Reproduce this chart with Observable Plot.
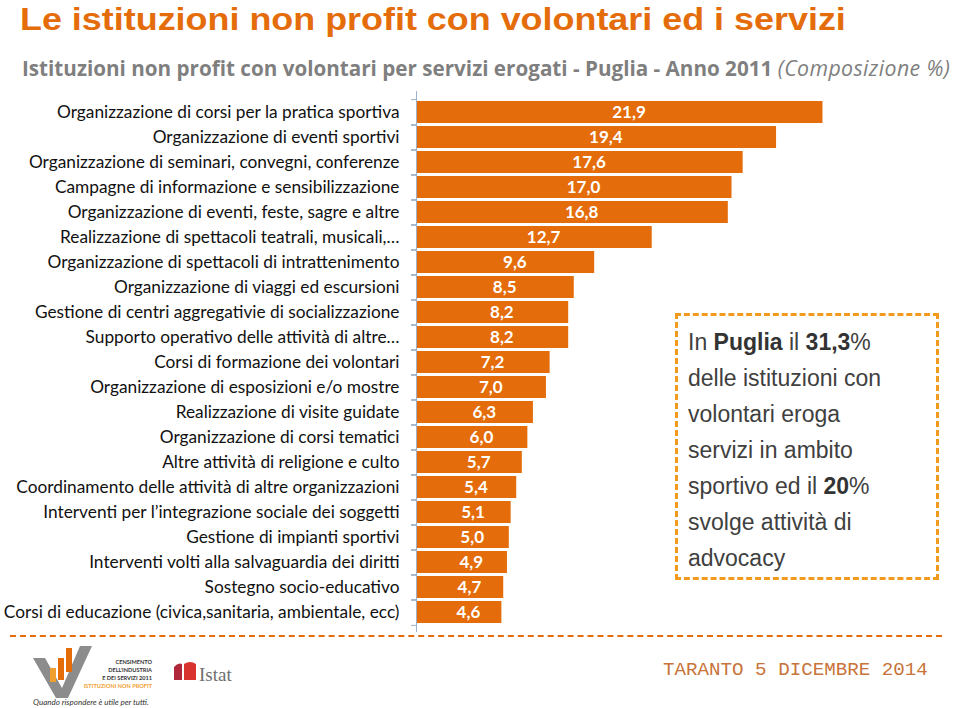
<!DOCTYPE html>
<html>
<head>
<meta charset="utf-8">
<script src="https://cdn.jsdelivr.net/npm/d3@7"></script>
<script src="https://cdn.jsdelivr.net/npm/@observablehq/plot@0.6"></script>
<style>
  html, body { margin: 0; padding: 0; background: #fff; }
  #page { position: relative; width: 959px; height: 708px; overflow: hidden; }
  #title { position: absolute; left: 20px; top: 1px; font: bold 32px/36px "Liberation Sans", Arial, sans-serif; color: #E46C0A; white-space: nowrap; transform: scaleX(1.122); transform-origin: 0 0; }
  #subtitle { position: absolute; left: 22px; top: 54px; font: bold 20.65px/28px "Open Sans", sans-serif; color: #7F7F7F; white-space: nowrap; }
  #subtitle i { font-weight: normal; font-size: 21.3px; letter-spacing: 0.4px; }
  #chart { position: absolute; left: 0; top: 85px; }
  #box { position: absolute; left: 675px; top: 313px; width: 258px; height: 261px; border: 3px dashed #F29A1E; }
  #boxtext { position: absolute; left: 688px; top: 324px; font: 23px/36px "Liberation Sans", Arial, sans-serif; color: #404040; }
  #boxtext b { color: #333; }
  #sep { position: absolute; left: 10px; top: 635px; width: 932px; height: 0; border-top: 2px dashed #E46C0A; }
  #date { position: absolute; left: 663px; top: 658px; font: 19.2px/24px "Liberation Mono", monospace; color: #C8733A; white-space: nowrap; }
  #logos { position: absolute; left: 0; top: 640px; }
</style>
</head>
<body>
<div id="page">
  <div id="title">Le istituzioni non profit con volontari ed i servizi</div>
  <div id="subtitle">Istituzioni non profit con volontari per servizi erogati - Puglia - Anno 2011 <i>(Composizione %)</i></div>
  <div id="chart"></div>
  <div id="box"></div>
  <div id="boxtext">In <b>Puglia</b> il <b>31,3</b>%<br>delle istituzioni con<br>volontari eroga<br>servizi in ambito<br>sportivo ed il <b>20</b>%<br>svolge attività di<br>advocacy</div>
  <div id="sep"></div>
  <svg id="logos" width="260" height="68">
    <polygon points="33,18 45,18 62,48 80,6 92,6 68,58 56,58" fill="#8C8C8C"/>
    <rect x="50" y="28" width="6" height="14" fill="#F0A030"/>
    <rect x="58" y="18" width="6" height="22" fill="#E46C0A"/>
    <rect x="66" y="8" width="6" height="24" fill="#E46C0A"/>
    <g font-family="Lato, sans-serif" font-weight="bold" font-size="5.6" text-anchor="end">
      <text x="152" y="24" fill="#333">CENSIMENTO</text>
      <text x="152" y="32" fill="#333">DELL'INDUSTRIA</text>
      <text x="152" y="40" fill="#333">E DEI SERVIZI 2011</text>
      <text x="152" y="48" fill="#F0A030">ISTITUZIONI NON PROFIT</text>
    </g>
    <text x="33" y="65" font-family="Lato, sans-serif" font-style="italic" font-size="8" fill="#333">Quando rispondere è utile per tutti.</text>
    <path d="M174,40 L174,27 Q178,22 182,24 L182,40 Z" fill="#B0263A"/>
    <path d="M184,40 L184,24 Q190,20 196,24 L196,40 Z" fill="#D9332F"/>
    <text x="199" y="41" font-family="Liberation Serif, serif" font-size="19" fill="#6F6F6F">Istat</text>
  </svg>
  <div id="date">TARANTO 5 DICEMBRE 2014</div>
</div>
<script>
const categories = [
  "Organizzazione di corsi per la pratica sportiva",
  "Organizzazione di eventi sportivi",
  "Organizzazione di seminari, convegni, conferenze",
  "Campagne di informazione e sensibilizzazione",
  "Organizzazione di eventi, feste, sagre e altre",
  "Realizzazione di spettacoli teatrali, musicali,…",
  "Organizzazione di spettacoli di intrattenimento",
  "Organizzazione di viaggi ed escursioni",
  "Gestione di centri aggregativie di socializzazione",
  "Supporto operativo delle attività di altre…",
  "Corsi di formazione dei volontari",
  "Organizzazione di esposizioni e/o mostre",
  "Realizzazione di visite guidate",
  "Organizzazione di corsi tematici",
  "Altre attività di religione e culto",
  "Coordinamento delle attività di altre organizzazioni",
  "Interventi per l’integrazione sociale dei soggetti",
  "Gestione di impianti sportivi",
  "Interventi volti alla salvaguardia dei diritti",
  "Sostegno socio-educativo",
  "Corsi di educazione (civica,sanitaria, ambientale, ecc)"
];
const values = [21.9, 19.4, 17.6, 17.0, 16.8, 12.7, 9.6, 8.5, 8.2, 8.2, 7.2, 7.0, 6.3, 6.0, 5.7, 5.4, 5.1, 5.0, 4.9, 4.7, 4.6];

const data = categories.map((c, i) => ({category: c, value: values[i]}));

const H = 552, MT = 6, MB = 5;
const step = (H - MT - MB) / categories.length;
const axisColor = "#9FB1C9";

const chart = Plot.plot({
  width: 959,
  height: H,
  marginLeft: 416,
  marginRight: 79,
  marginTop: MT,
  marginBottom: MB,
  x: {domain: [0, 25], axis: null},
  y: {domain: categories, padding: 0.14, label: null, axis: null},
  style: {fontFamily: "Lato, sans-serif", fontSize: "16px", color: "#111", overflow: "visible", background: "transparent"},
  marks: [
    Plot.barX(data, {x: "value", y: "category", fill: "#E46C0A"}),
    Plot.ruleX([0], {stroke: axisColor}),
    Plot.axisY({tickSize: 5, text: null, dy: -step / 2, stroke: axisColor}),
    Plot.axisY({tickSize: 5, text: null, dy: step / 2, stroke: axisColor}),
    Plot.axisY({tickSize: 0, tickPadding: 17, fontSize: 17.3, fill: "#111", label: null}),
    Plot.text(data, {
      x: d => d.value / 2 + 0.5,
      y: "category",
      text: d => d.value.toFixed(1).replace(".", ","),
      fill: "white",
      fontWeight: "bold",
      fontSize: 17,
      fontFamily: "Lato, sans-serif"
    })
  ]
});
document.getElementById("chart").appendChild(chart);
</script>
</body>
</html>
